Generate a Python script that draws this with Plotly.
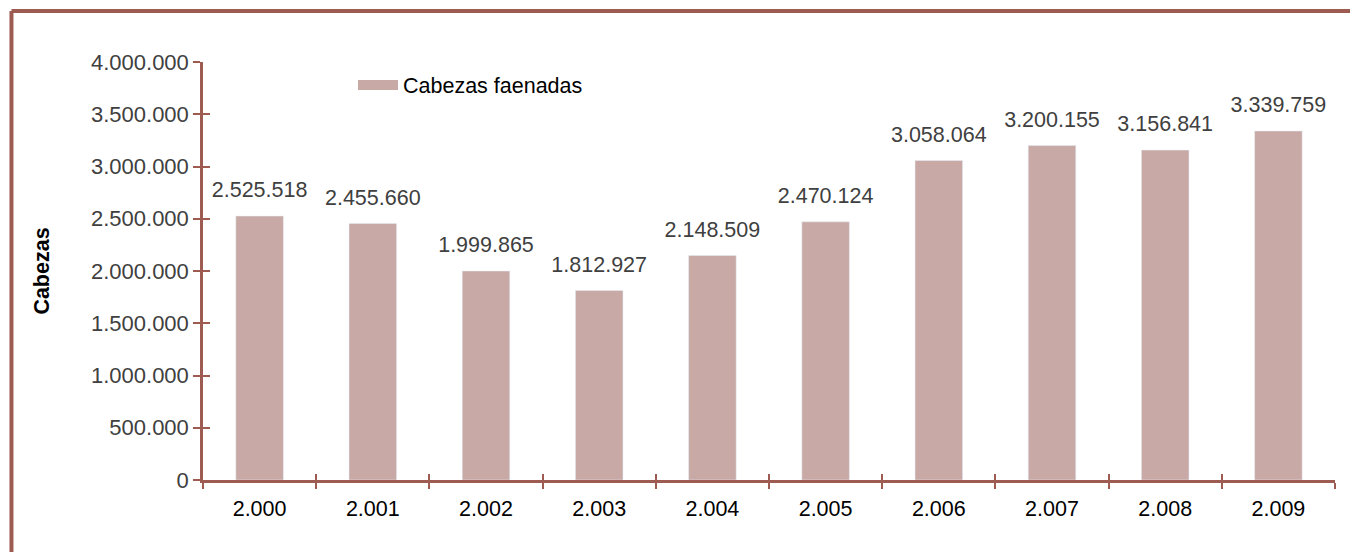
import plotly.graph_objects as go

# data
years = ["2.000", "2.001", "2.002", "2.003", "2.004",
         "2.005", "2.006", "2.007", "2.008", "2.009"]
cabezas = [2525518, 2455660, 1999865, 1812927, 2148509,
           2470124, 3058064, 3200155, 3156841, 3339759]
y_ticks = [0, 500000, 1000000, 1500000, 2000000, 2500000,
           3000000, 3500000, 4000000]
y_tick_labels = ["0", "500.000", "1.000.000", "1.500.000", "2.000.000",
                 "2.500.000", "3.000.000", "3.500.000", "4.000.000"]
bar_labels = [f"{v:,}".replace(",", ".") for v in cabezas]

BAR_COLOR = "#c8a9a5"
AXIS_COLOR = "#9e5b51"
FONT = "Liberation Sans, Arial, sans-serif"

fig = go.Figure()

# bars
fig.add_trace(go.Bar(
    x=years,
    y=cabezas,
    width=0.42,
    marker_color=BAR_COLOR,
    showlegend=False,
    hoverinfo="x+y",
))

# value labels above the bars (on the overlay axes)
fig.add_trace(go.Scatter(
    x=years,
    y=cabezas,
    mode="markers+text",
    text=bar_labels,
    textposition="top center",
    textfont=dict(size=21.5, color="#404040", family=FONT),
    marker=dict(size=20, opacity=0),
    cliponaxis=False,
    showlegend=False,
    hoverinfo="skip",
    xaxis="x2",
    yaxis="y2",
))

# legend entry (wide swatch like the original)
fig.add_trace(go.Scatter(
    x=[None],
    y=[None],
    mode="lines",
    line=dict(color=BAR_COLOR, width=14),
    name="Cabezas faenadas",
))

fig.update_layout(
    width=1350,
    height=544,
    paper_bgcolor="white",
    plot_bgcolor="white",
    margin=dict(l=195, r=23, t=54, b=72),
    font=dict(family=FONT, size=21.5, color="#404040"),
    xaxis=dict(
        type="category",
        categoryarray=years,
        range=[-0.5, 9.5],
        showline=True,
        linecolor=AXIS_COLOR,
        linewidth=2.5,
        ticks="outside",
        ticklen=6,
        tickwidth=2,
        tickcolor=AXIS_COLOR,
        tickson="boundaries",
        showgrid=False,
        tickfont=dict(size=21.5, color="#000000"),
        ticklabelstandoff=7,
    ),
    yaxis=dict(
        range=[0, 4000000],
        tickvals=y_ticks,
        ticktext=y_tick_labels,
        showline=True,
        linecolor=AXIS_COLOR,
        linewidth=2.5,
        ticks="outside",
        ticklen=7,
        tickwidth=2,
        tickcolor=AXIS_COLOR,
        showgrid=False,
        zeroline=False,
        tickfont=dict(size=22, color="#404040"),
        title=dict(text="<b>Cabezas</b>", standoff=36,
                   font=dict(size=21.5, color="#000000")),
    ),
    # overlay axes give the inner half of the cross-shaped ticks
    xaxis2=dict(
        type="category",
        categoryarray=years,
        range=[-0.5, 9.5],
        overlaying="x",
        anchor="y",
        side="bottom",
        ticks="inside",
        ticklen=6,
        tickwidth=2,
        tickcolor=AXIS_COLOR,
        tickson="boundaries",
        showticklabels=False,
        showgrid=False,
        showline=False,
    ),
    yaxis2=dict(
        range=[0, 4000000],
        tickvals=y_ticks,
        overlaying="y",
        anchor="x",
        side="left",
        ticks="inside",
        ticklen=7,
        tickwidth=2,
        tickcolor=AXIS_COLOR,
        showticklabels=False,
        showgrid=False,
        zeroline=False,
        showline=False,
    ),
    legend=dict(
        x=0.1325,
        xanchor="left",
        y=0.945,
        yanchor="middle",
        bgcolor="rgba(0,0,0,0)",
        font=dict(size=21.5, color="#000000"),
        itemwidth=40,
    ),
    showlegend=True,
    shapes=[
        # outer frame: top and left edges only
        dict(type="line", xref="paper", yref="paper",
             x0=-0.1692, x1=1.03, y0=1.122, y1=1.122,
             line=dict(color=AXIS_COLOR, width=4)),
        dict(type="line", xref="paper", yref="paper",
             x0=-0.1692, x1=-0.1692, y0=1.122, y1=-0.2,
             line=dict(color=AXIS_COLOR, width=4)),
    ],
)

fig.write_html("out.html")
